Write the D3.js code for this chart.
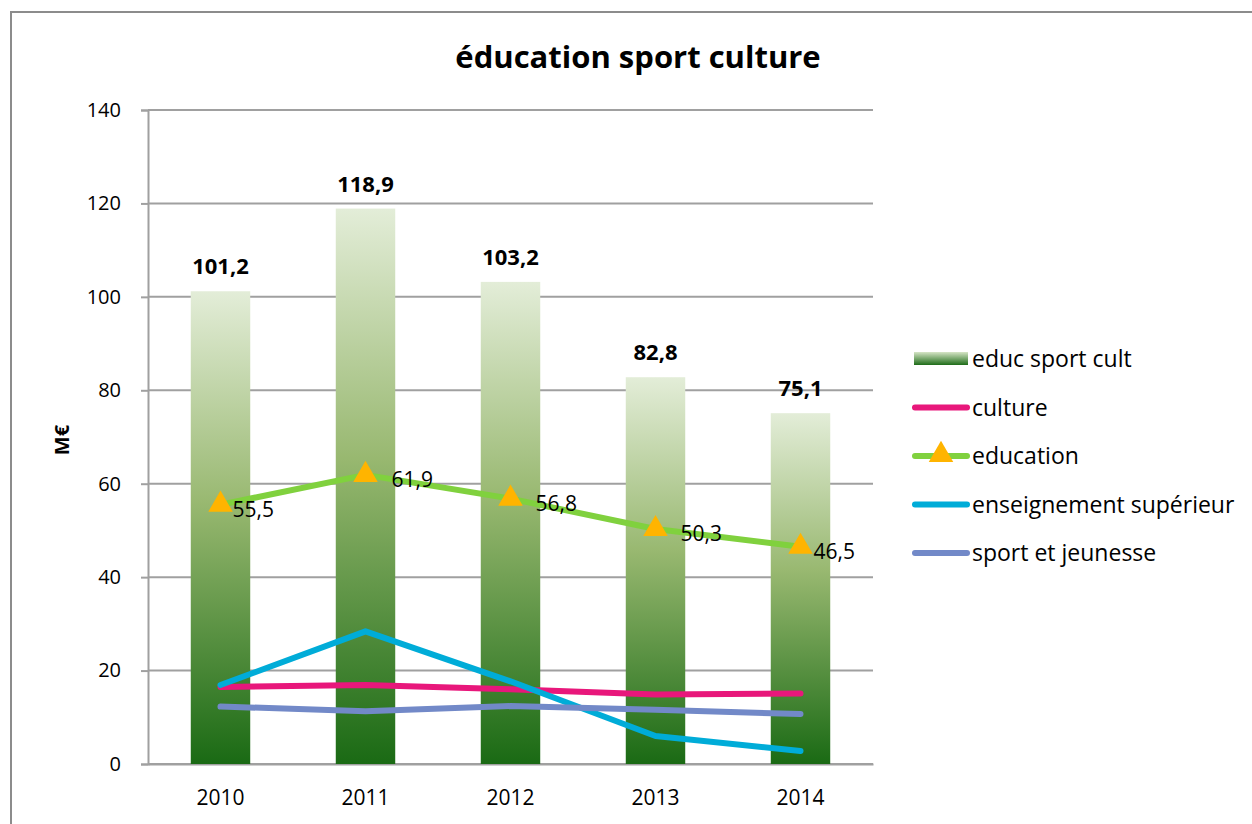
<!DOCTYPE html>
<html>
<head>
<meta charset="utf-8">
<script src="https://d3js.org/d3.v7.min.js"></script>
<style>
  body { margin: 0; background: #fff; }
  text { font-family: "Open Sans", "Noto Sans", sans-serif; fill: #000; }
</style>
</head>
<body>
<div id="chart"></div>
<script>
// data
const years = ["2010", "2011", "2012", "2013", "2014"];
const total = [101.2, 118.9, 103.2, 82.8, 75.1];
const culture = [16.5, 16.9, 16.0, 14.9, 15.1];
const education = [55.5, 61.9, 56.8, 50.3, 46.5];
const enseignement = [16.9, 28.4, 17.7, 6.0, 2.8];
const sport = [12.3, 11.3, 12.4, 11.6, 10.7];
const yTicks = [0, 20, 40, 60, 80, 100, 120, 140];

const W = 1252, H = 824;
const margin = {left: 148, top: 110, right: 379, bottom: 60};
const width = W - margin.left - margin.right;   // 725
const height = H - margin.top - margin.bottom;  // 654

const svg = d3.select("#chart").append("svg")
    .attr("width", W).attr("height", H);

// outer chart frame
svg.append("path")
    .attr("d", `M11,${H} L11,12 L${W},12`)
    .attr("fill", "none").attr("stroke", "#8c8c8c").attr("stroke-width", 2);

const defs = svg.append("defs");
const grad = defs.append("linearGradient")
    .attr("id", "barGrad").attr("x1", 0).attr("y1", 0).attr("x2", 0).attr("y2", 1);
grad.append("stop").attr("offset", "0%").attr("stop-color", "#e3edd8");
grad.append("stop").attr("offset", "45%").attr("stop-color", "#98b870");
grad.append("stop").attr("offset", "100%").attr("stop-color", "#1a6a14");

const gradH = defs.append("linearGradient")
    .attr("id", "legGrad").attr("x1", 0).attr("y1", 0).attr("x2", 0).attr("y2", 1);
gradH.append("stop").attr("offset", "0%").attr("stop-color", "#d6e5c6");
gradH.append("stop").attr("offset", "100%").attr("stop-color", "#1e6c18");

const g = svg.append("g").attr("transform", `translate(${margin.left},${margin.top})`);

const x = d3.scaleBand().domain(years).range([0, width]).padding(0);
const y = d3.scaleLinear().domain([0, 140]).range([height, 0]);
const barW = x.bandwidth() * 0.41;
const cx = d => x(d) + x.bandwidth() / 2;

// gridlines
g.selectAll(".grid").data(yTicks).enter().append("line")
    .attr("x1", 0).attr("x2", width)
    .attr("y1", d => y(d)).attr("y2", d => y(d))
    .attr("stroke", "#a0a0a0").attr("stroke-width", 2);

// y axis
const yAxis = g.append("g").call(d3.axisLeft(y).tickValues(yTicks).tickSize(7).tickPadding(20));
yAxis.select(".domain").attr("stroke", "#a0a0a0").attr("stroke-width", 2);
yAxis.selectAll(".tick line").attr("stroke", "#a0a0a0").attr("stroke-width", 2);
yAxis.selectAll("text").style("font-size", "20px").attr("fill", "#000");

// x axis labels
const xAxis = g.append("g").attr("transform", `translate(0,${height})`)
    .call(d3.axisBottom(x).tickSize(0).tickPadding(26));
xAxis.select(".domain").attr("stroke", "#a0a0a0").attr("stroke-width", 2);
xAxis.selectAll("text").style("font-size", "21px").attr("fill", "#000");

// bars
g.selectAll(".bar").data(years).enter().append("rect")
    .attr("x", d => cx(d) - barW / 2)
    .attr("width", barW)
    .attr("y", (d, i) => y(total[i]))
    .attr("height", (d, i) => height - y(total[i]))
    .attr("fill", "url(#barGrad)");

g.selectAll(".barLabel").data(years).enter().append("text")
    .attr("x", d => cx(d))
    .attr("y", (d, i) => y(total[i]) - 17)
    .attr("text-anchor", "middle")
    .style("font-size", "22px").style("font-weight", "bold")
    .text((d, i) => String(total[i]).replace(".", ","));

// lines
const line = vals => d3.line().x((d, i) => cx(years[i])).y(d => y(d))(vals);
const series = [
  {vals: culture, color: "#e8177b"},
  {vals: enseignement, color: "#00acd8"},
  {vals: sport, color: "#7289c8"},
  {vals: education, color: "#80d13e"}
];
series.forEach(s => {
  g.append("path").attr("d", line(s.vals))
    .attr("fill", "none").attr("stroke", s.color)
    .attr("stroke-width", 6).attr("stroke-linecap", "round").attr("stroke-linejoin", "round");
});

const tri = d3.symbol().type(d3.symbolTriangle).size(260);
g.selectAll(".marker").data(years).enter().append("path")
    .attr("d", tri)
    .attr("transform", (d, i) => `translate(${cx(d)},${y(education[i])})`)
    .attr("fill", "#ffb400");

const labelDx = [12, 26, 25, 25, 13];
g.selectAll(".eduLabel").data(years).enter().append("text")
    .attr("x", (d, i) => cx(d) + labelDx[i])
    .attr("y", (d, i) => y(education[i]) + 12)
    .style("font-size", "21px")
    .text((d, i) => String(education[i]).replace(".", ","));

// title
svg.append("text").attr("x", 638).attr("y", 68).attr("text-anchor", "middle")
    .style("font-size", "31px").style("font-weight", "bold")
    .text("éducation sport culture");

// y axis title
svg.append("text").attr("transform", "translate(69,440) rotate(-90)")
    .attr("text-anchor", "middle")
    .style("font-size", "20px").style("font-weight", "bold")
    .text("M€");

// legend
const legend = [
  {name: "educ sport cult", type: "bar"},
  {name: "culture", color: "#e8177b"},
  {name: "education", color: "#80d13e", marker: true},
  {name: "enseignement supérieur", color: "#00acd8"},
  {name: "sport et jeunesse", color: "#7289c8"}
];
const lg = svg.append("g").attr("transform", "translate(913,359)");
legend.forEach((d, i) => {
  const row = lg.append("g").attr("transform", `translate(0,${i * 48.5})`);
  if (d.type === "bar") {
    row.append("rect").attr("x", 1).attr("y", -7).attr("width", 54).attr("height", 13)
      .attr("fill", "url(#legGrad)");
  } else {
    row.append("line").attr("x1", 2).attr("x2", 54).attr("y1", 0).attr("y2", 0)
      .attr("stroke", d.color).attr("stroke-width", 6).attr("stroke-linecap", "round");
    if (d.marker) {
      row.append("path").attr("d", tri).attr("transform", "translate(28,-1)").attr("fill", "#ffb400");
    }
  }
  row.append("text").attr("x", 59).attr("y", 8).style("font-size", "23px").text(d.name);
});
</script>
</body>
</html>
